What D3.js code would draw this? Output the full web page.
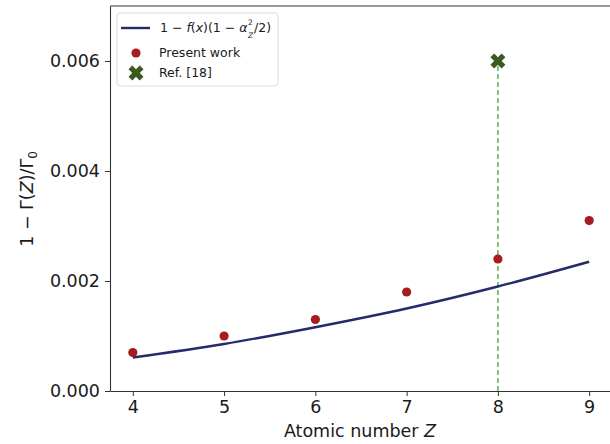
<!DOCTYPE html>
<html><head><meta charset="utf-8">
<script src="https://cdn.jsdelivr.net/npm/d3@7"></script>
<style>body{margin:0;background:#fff}svg{display:block;font-family:"DejaVu Sans",sans-serif}</style>
</head><body><svg id="c" width="610" height="444"></svg>
<script>
const Z = [4, 5, 6, 7, 8, 9];
const presentWork = [0.0007, 0.0010, 0.0013, 0.0018, 0.0024, 0.0031];
const modelCurve = [0.00061, 0.000855, 0.00116, 0.0015, 0.0019, 0.00235];
const refZ = [8];
const refValue = [0.006];
const xTicks = [4, 5, 6, 7, 8, 9];
const yTicks = [0, 0.002, 0.004, 0.006];

const svg = d3.select("#c");
const m = {l: 110, t: 6, r: 612, b: 391};
const x = d3.scaleLinear().domain([3.75, 9.25]).range([m.l, m.r]);
const y = d3.scaleLinear().domain([0, 0.007]).range([m.b, m.t]);

// axes
const xa = svg.append("g").attr("transform", `translate(0,${m.b})`)
  .call(d3.axisBottom(x).tickValues(xTicks).tickFormat(d3.format("d")).tickSize(5).tickPadding(5).tickSizeOuter(0));
const ya = svg.append("g").attr("transform", `translate(${m.l},0)`)
  .call(d3.axisLeft(y).tickValues(yTicks).tickFormat(d3.format(".3f")).tickSize(5).tickPadding(5).tickSizeOuter(0));
[xa, ya].forEach(a => {
  a.selectAll("text").attr("font-size", 17.5).attr("fill", "#1a1a1a").attr("font-family", "DejaVu Sans");
  a.selectAll("line").attr("stroke", "#333").attr("stroke-width", 1);
  a.select(".domain").attr("stroke", "#333").attr("stroke-width", 1.1);
});
// top spine
svg.append("line").attr("x1", m.l).attr("x2", m.r).attr("y1", m.t).attr("y2", m.t).attr("stroke", "#333").attr("stroke-width", 1.1);

// dashed reference line
svg.selectAll(".vl").data(refZ).enter().append("line")
  .attr("x1", d => x(d)).attr("x2", d => x(d)).attr("y1", y(0)).attr("y2", (d, i) => y(refValue[i]))
  .attr("stroke", "#4caa3e").attr("stroke-width", 1.4).attr("stroke-dasharray", "5,3");

// model curve
const line = d3.line().x((d, i) => x(Z[i])).y(d => y(d)).curve(d3.curveCatmullRom);
svg.append("path").datum(modelCurve).attr("d", line).attr("fill", "none")
  .attr("stroke", "#262a6b").attr("stroke-width", 2.4);

// present work points
svg.selectAll(".pw").data(presentWork).enter().append("circle")
  .attr("cx", (d, i) => x(Z[i])).attr("cy", d => y(d)).attr("r", 4.6).attr("fill", "#a61c1f");

// reference X marker
const xSym = d3.symbol().type(d3.symbolCross).size(140);
svg.selectAll(".ref").data(refValue).enter().append("path")
  .attr("d", xSym).attr("transform", (d, i) => `translate(${x(refZ[i])},${y(d)}) rotate(45)`)
  .attr("fill", "#3b5a1d");

// axis labels
const xl = svg.append("text").attr("x", 360).attr("y", 437).attr("text-anchor", "middle")
  .attr("font-size", 17.5).attr("fill", "#1a1a1a");
xl.append("tspan").text("Atomic number ");
xl.append("tspan").attr("font-style", "italic").text("Z");

const yl = svg.append("text").attr("transform", "translate(33,199) rotate(-90)").attr("text-anchor", "middle")
  .attr("font-size", 17.5).attr("fill", "#1a1a1a");
yl.append("tspan").text("1 − Γ(");
yl.append("tspan").attr("font-style", "italic").text("Z");
yl.append("tspan").text(")/Γ");
yl.append("tspan").attr("font-size", 12).attr("dy", 4).text("0");

// legend
const lg = svg.append("g");
lg.append("rect").attr("x", 117).attr("y", 13).attr("width", 161).attr("height", 73).attr("rx", 3)
  .attr("fill", "#fff").attr("fill-opacity", 0.8).attr("stroke", "#ddd").attr("stroke-width", 1);
lg.append("line").attr("x1", 121).attr("x2", 150).attr("y1", 28).attr("y2", 28)
  .attr("stroke", "#262a6b").attr("stroke-width", 2.4);
const t1 = lg.append("text").attr("x", 160).attr("y", 32).attr("font-size", 12.5).attr("fill", "#1a1a1a");
t1.append("tspan").text("1 − ");
t1.append("tspan").attr("font-style", "italic").text("f");
t1.append("tspan").text("(");
t1.append("tspan").attr("font-style", "italic").text("x");
t1.append("tspan").text(")(1 − ");
t1.append("tspan").attr("font-style", "italic").text("α");
const endA = 160 + t1.node().getComputedTextLength() + 0.5;
// stacked super/subscript as separate texts
lg.append("text").attr("x", endA).attr("y", 25).attr("font-size", 7.5).attr("fill", "#1a1a1a").text("2");
lg.append("text").attr("x", endA).attr("y", 37.5).attr("font-size", 7.5).attr("font-style", "italic").attr("fill", "#1a1a1a").text("Z");
lg.append("text").attr("x", endA + 6).attr("y", 32).attr("font-size", 12.5).attr("fill", "#1a1a1a").text("/2)");
lg.append("circle").attr("cx", 136).attr("cy", 53).attr("r", 4.6).attr("fill", "#a61c1f");
lg.append("text").attr("x", 159).attr("y", 57).attr("font-size", 12.5).attr("fill", "#1a1a1a").text("Present work");
lg.append("path").attr("d", xSym).attr("transform", "translate(136,73) rotate(45)").attr("fill", "#3b5a1d");
lg.append("text").attr("x", 159).attr("y", 77).attr("font-size", 12.5).attr("fill", "#1a1a1a").text("Ref. [18]");
</script></body></html>
